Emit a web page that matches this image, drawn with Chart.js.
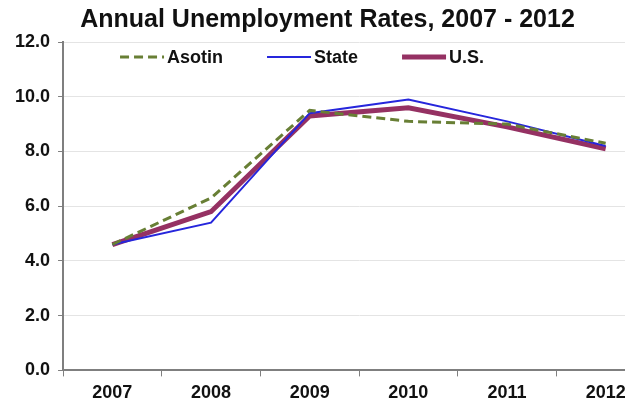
<!DOCTYPE html>
<html>
<head>
<meta charset="utf-8">
<title>Annual Unemployment Rates</title>
<script src="https://cdn.jsdelivr.net/npm/chart.js@4.4.1/dist/chart.umd.min.js"></script>
<style>
  html, body { margin: 0; padding: 0; background: #fff; overflow: hidden; }
  #wrap { width: 655px; height: 403px; }
</style>
</head>
<body>
<div id="wrap"><canvas id="chart"></canvas></div>
<script>
// annual unemployment rates (%)
const years = ['2007', '2008', '2009', '2010', '2011', '2012'];
const asotin = [4.6, 6.3, 9.5, 9.1, 9.0, 8.3];
const state = [4.6, 5.4, 9.4, 9.9, 9.1, 8.2];
const us = [4.6, 5.8, 9.3, 9.6, 8.9, 8.1];
const yTicks = [0, 2, 4, 6, 8, 10, 12];

const FONT = '"Liberation Sans", Arial, sans-serif';

// legend drawn inside the plot area, under the top gridline
const insideLegend = {
  id: 'insideLegend',
  afterDatasetsDraw(chart) {
    const ctx = chart.ctx;
    const area = chart.chartArea;
    let x = area.left + 57;
    const y = area.top + 15;
    ctx.save();
    ctx.font = 'bold 18px ' + FONT;
    ctx.textBaseline = 'middle';
    chart.data.datasets.forEach(ds => {
      ctx.beginPath();
      ctx.strokeStyle = ds.borderColor;
      ctx.lineWidth = ds.borderWidth;
      ctx.setLineDash(ds.borderDash || []);
      ctx.moveTo(x, y);
      ctx.lineTo(x + 44, y);
      ctx.stroke();
      ctx.setLineDash([]);
      ctx.fillStyle = '#111';
      ctx.fillText(ds.label, x + 47, y + 1);
      x += 47 + ctx.measureText(ds.label).width + 44;
    });
    ctx.restore();
  }
};

new Chart(document.getElementById('chart'), {
  type: 'line',
  data: {
    labels: years,
    datasets: [
      {
        label: 'Asotin',
        data: asotin,
        borderColor: '#687f35',
        borderWidth: 3,
        borderDash: [9, 5]
      },
      {
        label: 'State',
        data: state,
        borderColor: '#2626dc',
        borderWidth: 2
      },
      {
        label: 'U.S.',
        data: us,
        borderColor: '#953163',
        borderWidth: 5
      }
    ]
  },
  options: {
    responsive: true,
    maintainAspectRatio: false,
    animation: false,
    elements: {
      point: { radius: 0 },
      line: { tension: 0, borderCapStyle: 'butt' }
    },
    layout: {
      padding: { left: 0, right: 0, top: 0, bottom: -7 }
    },
    plugins: {
      legend: { display: false },
      tooltip: { enabled: false },
      title: {
        display: true,
        text: 'Annual Unemployment Rates, 2007 - 2012',
        color: '#111',
        font: { family: FONT, size: 25, weight: 'bold' },
        padding: { top: 5, bottom: 7 }
      }
    },
    scales: {
      x: {
        offset: true,
        grid: {
          offset: true,
          drawOnChartArea: false,
          tickColor: '#7f7f7f',
          tickLength: 6
        },
        border: { color: '#7f7f7f', width: 2 },
        ticks: {
          color: '#111',
          padding: 6,
          font: { family: FONT, size: 18, weight: 'bold' }
        }
      },
      y: {
        min: yTicks[0],
        max: yTicks[yTicks.length - 1],
        afterBuildTicks(axis) {
          axis.ticks = yTicks.map(v => ({ value: v }));
        },
        // a little room left of the tick labels
        afterFit(axis) {
          axis.width += 7;
        },
        grid: {
          color: '#e4e4e4',
          tickColor: '#7f7f7f',
          tickLength: 5
        },
        border: { color: '#7f7f7f', width: 2 },
        ticks: {
          color: '#111',
          padding: 8,
          font: { family: FONT, size: 18, weight: 'bold' },
          callback: v => Number(v).toFixed(1)
        }
      }
    }
  },
  plugins: [insideLegend]
});
</script>
</body>
</html>
